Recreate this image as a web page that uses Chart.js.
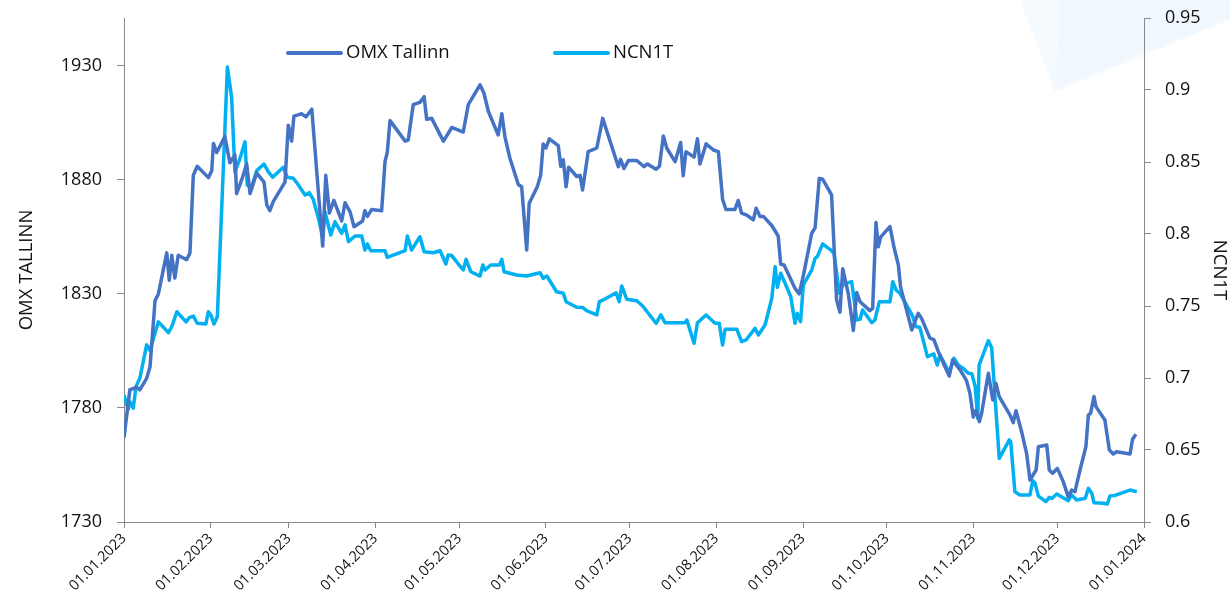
<!DOCTYPE html>
<html>
<head>
<meta charset="utf-8">
<title>OMX Tallinn vs NCN1T</title>
<script src="https://cdn.jsdelivr.net/npm/chart.js@4.4.0/dist/chart.umd.min.js"></script>
<style>
  html, body { margin: 0; padding: 0; background: #fff; }
  #wrap { width: 1230px; height: 596px; }
</style>
</head>
<body>
<div id="wrap"><canvas id="chart" width="1230" height="596"></canvas></div>
<script>
// x values are days counted from 01.01.2023
const xTickLabels = ['01.01.2023', '01.02.2023', '01.03.2023', '01.04.2023', '01.05.2023', '01.06.2023',
  '01.07.2023', '01.08.2023', '01.09.2023', '01.10.2023', '01.11.2023', '01.12.2023', '01.01.2024'];
const omxTicks = [1730, 1780, 1830, 1880, 1930];
const ncnTicks = [0.6, 0.65, 0.7, 0.75, 0.8, 0.85, 0.9, 0.95];

const omxDays = [
  0, 2.1, 4.5, 5.7, 8.1, 9.3, 11.1, 12.3, 15.3, 16.2,
  17.1, 18.2, 19.4, 22.4, 23.6, 24.8, 26.2, 30.2, 31.4, 32.0,
  33.2, 36.1, 37.9, 39.7, 40.3, 42.1, 43.9, 45.1, 47.5, 50.1,
  51.1, 52.2, 53.4, 57.6, 58.8, 60.0, 60.8, 63.6, 65.1, 67.2,
  71.1, 72.2, 73.5, 75.1, 77.9, 79.1, 80.9, 82.3, 85.4, 86.2,
  87.1, 88.6, 92.2, 93.4, 94.2, 95.2, 100.6, 101.7, 103.5, 105.9,
  107.4, 108.3, 110.1, 114.3, 117.3, 121.4, 123.2, 127.4, 128.8, 130.4,
  133.9, 135.2, 136.3, 138.1, 141.1, 142.3, 144.1, 145.0, 147.9, 149.1,
  150.0, 151.0, 152.2, 155.4, 156.3, 157.2, 158.2, 159.1, 162.0, 163.2,
  164.1, 166.1, 169.2, 171.3, 176.9, 177.7, 178.9, 180.5, 183.5, 186.1,
  187.3, 190.4, 191.6, 193.0, 194.2, 197.2, 199.2, 200.1, 201.1, 204.0,
  205.2, 206.1, 208.3, 211.1, 212.7, 214.2, 215.4, 218.6, 219.8, 221.0,
  222.8, 225.2, 226.2, 227.6, 228.8, 231.8, 234.1, 235.0, 236.2, 240.1,
  241.6, 243.1, 246.1, 247.3, 248.8, 250.0, 253.2, 255.0, 256.2, 257.2,
  259.2, 261.0, 262.2, 263.4, 266.9, 267.9, 269.1, 269.9, 270.8, 274.1,
  275.5, 277.1, 277.9, 281.9, 283.0, 284.2, 285.4, 288.4, 289.8, 291.4,
  293.2, 295.3, 296.5, 299.2, 301.5, 302.7, 303.9, 304.9, 306.1, 306.9,
  309.3, 310.9, 312.0, 313.2, 317.0, 318.2, 319.2, 321.2, 323.0, 324.2,
  326.4, 327.2, 330.2, 331.1, 332.3, 334.0, 336.1, 337.9, 339.1, 340.3,
  342.1, 344.2, 345.1, 345.9, 347.1, 347.8, 351.0, 352.6, 354.0, 355.2,
  360.0, 360.9, 362.1
];
const omxValues = [
  1767, 1788, 1789, 1788, 1793, 1798, 1827, 1830, 1848, 1836,
  1847, 1837, 1847, 1845, 1848, 1882, 1886, 1881, 1884, 1896,
  1892, 1899, 1887.5, 1891, 1874, 1880, 1887, 1874, 1883, 1879,
  1869, 1866.5, 1870.5, 1879, 1904, 1897, 1908, 1909, 1907.6, 1911,
  1851, 1882, 1865.5, 1871, 1862, 1870, 1866, 1859.5, 1862, 1866.5,
  1864, 1867, 1866.5, 1888, 1892, 1906, 1897, 1897.5, 1913, 1914,
  1916.5, 1906.6, 1907, 1897, 1903, 1901, 1913, 1921.7, 1918, 1910,
  1899.7, 1909, 1899, 1889.5, 1878, 1877, 1849.3, 1869.8, 1877, 1882,
  1895.8, 1894, 1898, 1895, 1886, 1888.8, 1877, 1885.6, 1881.5, 1882,
  1875.6, 1892.4, 1894, 1907, 1885.8, 1889, 1885, 1888.5, 1888.5, 1885.8,
  1887, 1884.7, 1886, 1899.3, 1894, 1888, 1896.4, 1881.8, 1892.4, 1890,
  1898, 1887, 1895.8, 1893, 1892.4, 1871.5, 1867, 1867, 1871, 1865.4,
  1864.6, 1862.5, 1867.6, 1864, 1864, 1860, 1855.4, 1843, 1842.7, 1832.5,
  1830, 1838, 1856.6, 1859, 1880.7, 1880.3, 1873.4, 1827.4, 1822, 1841,
  1830, 1814, 1830.6, 1826.6, 1822.7, 1823.7, 1861.3, 1850.7, 1855, 1859.5,
  1850.7, 1842.7, 1833, 1814.2, 1817.9, 1821.5, 1819.3, 1810.6, 1810, 1804.7,
  1799.6, 1794, 1801, 1796.7, 1792, 1786.4, 1776, 1779, 1774, 1777.7,
  1795.2, 1783.5, 1790.8, 1785, 1777, 1773.6, 1778.8, 1769.6, 1760, 1748.4,
  1752.8, 1763, 1763.8, 1752.8, 1751.4, 1753.5, 1747.7, 1741, 1744, 1743.3,
  1752.8, 1763, 1777, 1777.7, 1785, 1780.6, 1774.7, 1761.6, 1759.8, 1760.8,
  1759.8, 1766.3, 1768.5
];

const ncnDays = [
  0, 1.5, 2.1, 3.3, 4.3, 5.7, 8.1, 9.3, 10.3, 12.3,
  15.9, 17.1, 18.9, 22.2, 23.4, 24.8, 26.2, 29.3, 30.2, 31.1,
  32.2, 33.4, 37.0, 38.5, 39.7, 41.5, 43.3, 44.1, 45.7, 47.5,
  50.1, 51.6, 53.2, 57.0, 58.4, 60.6, 62.4, 64.8, 66.3, 67.7,
  69.9, 71.1, 71.9, 74.0, 75.5, 77.9, 79.1, 80.3, 82.7, 85.1,
  86.2, 87.1, 88.3, 93.4, 94.2, 100.6, 101.4, 102.9, 105.9, 107.4,
  110.7, 113.1, 115.2, 116.0, 117.3, 120.2, 121.4, 122.4, 124.1, 127.4,
  128.4, 129.2, 131.2, 134.3, 135.2, 136.0, 140.5, 144.1, 148.9, 150.0,
  151.3, 154.8, 157.2, 158.2, 162.0, 164.1, 165.6, 169.2, 170.1, 171.5,
  176.1, 177.2, 178.1, 179.9, 183.5, 185.6, 190.4, 192.1, 193.6, 200.8,
  201.4, 204.0, 205.2, 208.3, 211.5, 213.0, 214.2, 215.1, 219.3, 221.0,
  222.6, 225.8, 227.0, 229.4, 231.8, 233.0, 233.8, 235.0, 237.1, 238.6,
  240.1, 240.9, 242.1, 243.1, 246.1, 247.3, 248.1, 250.0, 253.2, 254.1,
  256.0, 257.2, 259.2, 260.4, 262.2, 263.4, 264.3, 267.6, 268.7, 270.3,
  274.1, 275.1, 276.3, 277.7, 280.7, 282.2, 283.4, 284.8, 287.5, 289.8,
  291.0, 292.0, 295.3, 297.0, 298.5, 300.3, 302.1, 303.4, 304.6, 305.5,
  306.0, 309.3, 310.5, 313.2, 316.8, 317.3, 318.8, 320.6, 324.2, 325.2,
  326.0, 327.2, 329.9, 331.1, 332.0, 333.8, 337.9, 339.1, 340.9, 344.0,
  345.1, 346.3, 347.1, 350.4, 351.9, 352.8, 354.6, 360.0, 362.4
];
const ncnValues = [
  0.688, 0.678, 0.6835, 0.679, 0.694, 0.700, 0.723, 0.719, 0.726, 0.739,
  0.7315, 0.7356, 0.746, 0.739, 0.742, 0.743, 0.738, 0.7375, 0.746, 0.7437,
  0.7375, 0.7426, 0.916, 0.895, 0.843, 0.8525, 0.864, 0.834, 0.833, 0.844,
  0.8486, 0.8433, 0.8394, 0.8463, 0.8394, 0.8387, 0.834, 0.8271, 0.8287, 0.8241,
  0.8085, 0.798, 0.8155, 0.7993, 0.8085, 0.8005, 0.8063, 0.7947, 0.7986, 0.7986,
  0.7889, 0.7931, 0.7884, 0.7884, 0.7838, 0.7884, 0.7986, 0.7889, 0.7981, 0.7877,
  0.787, 0.7884, 0.7792, 0.7854, 0.785, 0.7778, 0.775, 0.7824, 0.7738, 0.7708,
  0.7785, 0.775, 0.7785, 0.7785, 0.7824, 0.7738, 0.7715, 0.7708, 0.7731, 0.7692,
  0.7708, 0.7599, 0.7588, 0.753, 0.7491, 0.749, 0.7467, 0.7438, 0.753, 0.7542,
  0.7592, 0.753, 0.7639, 0.7547, 0.7537, 0.75, 0.738, 0.7438, 0.7384, 0.7384,
  0.7403, 0.7241, 0.7384, 0.7438, 0.738, 0.738, 0.7229, 0.7338, 0.7338, 0.7252,
  0.7264, 0.7345, 0.7299, 0.7368, 0.7553, 0.7773, 0.763, 0.7727, 0.7634, 0.7565,
  0.738, 0.7449, 0.7391, 0.7646, 0.775, 0.7831, 0.7843, 0.7931, 0.7884, 0.7861,
  0.7588, 0.7646, 0.7662, 0.7669, 0.7403, 0.7408, 0.7472, 0.7384, 0.7403, 0.753,
  0.753, 0.7669, 0.7611, 0.7588, 0.7484, 0.743, 0.7356, 0.7352, 0.7148, 0.7167,
  0.709, 0.716, 0.7037, 0.7137, 0.709, 0.7067, 0.7033, 0.703, 0.694, 0.672,
  0.709, 0.7259, 0.721, 0.6442, 0.657, 0.656, 0.621, 0.6188, 0.6188, 0.6287,
  0.627, 0.618, 0.6141, 0.6171, 0.6163, 0.6194, 0.6148, 0.6188, 0.6153, 0.6165,
  0.6234, 0.620, 0.6134, 0.613, 0.6125, 0.618, 0.6185, 0.6222, 0.621
];

const FONT = "'Open Sans', 'DejaVu Sans', sans-serif";
const AXIS_GREY = '#898989';
const TEXT = '#111111';

const startUtc = Date.UTC(2023, 0, 1);
function labelToDay(s) {
  const p = s.split('.');
  return (Date.UTC(+p[2], +p[1] - 1, +p[0]) - startUtc) / 864e5;
}
const xTickDays = xTickLabels.map(labelToDay);

// faint decorative shape in the upper right corner
const backdrop = {
  id: 'backdrop',
  beforeDraw(chart) {
    const ctx = chart.ctx;
    ctx.save();
    ctx.fillStyle = 'rgb(245,250,254)';
    ctx.beginPath();
    ctx.moveTo(1020, 0); ctx.lineTo(1055, 92); ctx.lineTo(1230, 20); ctx.lineTo(1230, 0);
    ctx.closePath(); ctx.fill();
    ctx.fillStyle = 'rgb(240,247,253)';
    ctx.beginPath();
    ctx.moveTo(1060, 0); ctx.lineTo(1056, 88); ctx.lineTo(1230, 18); ctx.lineTo(1230, 0);
    ctx.closePath(); ctx.fill();
    ctx.restore();
  }
};

// legend drawn in the same spot as the original
const topLegend = {
  id: 'topLegend',
  afterDraw(chart) {
    const ctx = chart.ctx;
    const spots = [288, 555];
    ctx.save();
    ctx.font = '18.5px ' + FONT;
    ctx.textBaseline = 'middle';
    chart.data.datasets.forEach((ds, i) => {
      const x = spots[i], y = 53;
      ctx.strokeStyle = ds.borderColor;
      ctx.lineWidth = 4;
      ctx.lineCap = 'round';
      ctx.beginPath(); ctx.moveTo(x, y); ctx.lineTo(x + 53, y); ctx.stroke();
      ctx.fillStyle = TEXT;
      ctx.fillText(ds.label, x + 58, y);
    });
    ctx.restore();
  }
};

new Chart(document.getElementById('chart'), {
  type: 'line',
  data: {
    datasets: [{
      label: 'OMX Tallinn',
      data: omxDays.map((d, i) => ({ x: d, y: omxValues[i] })),
      borderColor: '#4472C4',
      borderWidth: 3.5,
      pointRadius: 0,
      tension: 0,
      borderJoinStyle: 'round',
      yAxisID: 'y'
    }, {
      label: 'NCN1T',
      data: ncnDays.map((d, i) => ({ x: d, y: ncnValues[i] })),
      borderColor: '#00B0F0',
      borderWidth: 3.5,
      pointRadius: 0,
      tension: 0,
      borderJoinStyle: 'round',
      yAxisID: 'y1'
    }]
  },
  options: {
    responsive: false,
    animation: false,
    layout: { padding: { top: 18, left: 0, right: 0, bottom: 0 } },
    plugins: {
      legend: { display: false },
      tooltip: { enabled: false }
    },
    scales: {
      x: {
        type: 'linear',
        min: xTickDays[0],
        max: xTickDays[xTickDays.length - 1],
        afterBuildTicks(s) { s.ticks = xTickDays.map(v => ({ value: v })); },
        afterFit(s) { s.height = 74; },
        ticks: {
          autoSkip: false,
          minRotation: 45,
          maxRotation: 45,
          padding: 2,
          color: TEXT,
          font: { family: FONT, size: 14.5 },
          callback(v) { return xTickLabels[xTickDays.indexOf(v)]; }
        },
        grid: { drawOnChartArea: false, tickLength: 6, color: AXIS_GREY },
        border: { color: AXIS_GREY, width: 1 }
      },
      y: {
        position: 'left',
        min: 1730,
        max: 1951,
        afterBuildTicks(s) { s.ticks = omxTicks.map(v => ({ value: v })); },
        afterFit(s) { s.width = 124; s.paddingTop = 0; s.paddingBottom = 0; },
        ticks: {
          color: TEXT,
          padding: 15,
          font: { family: FONT, size: 18 },
          callback(v) { return String(v); }
        },
        grid: { drawOnChartArea: false, tickLength: 7, color: AXIS_GREY },
        border: { color: AXIS_GREY, width: 1 },
        title: {
          display: true,
          text: 'OMX TALLINN',
          color: TEXT,
          font: { family: FONT, size: 18.5 },
          padding: { top: 16, bottom: 0 }
        }
      },
      y1: {
        position: 'right',
        min: 0.6,
        max: 0.95,
        afterBuildTicks(s) { s.ticks = ncnTicks.map(v => ({ value: v })); },
        afterFit(s) { s.width = 86; s.paddingTop = 0; s.paddingBottom = 0; },
        ticks: {
          color: TEXT,
          padding: 14,
          font: { family: FONT, size: 18 },
          callback(v) { return String(parseFloat(v.toFixed(2))); }
        },
        grid: { drawOnChartArea: false, tickLength: 7, color: AXIS_GREY },
        border: { color: AXIS_GREY, width: 1 },
        title: {
          display: true,
          text: 'NCN1T',
          color: TEXT,
          font: { family: FONT, size: 18.5 },
          padding: { top: 0, bottom: 0 }
        }
      }
    }
  },
  plugins: [backdrop, topLegend]
});
</script>
</body>
</html>
